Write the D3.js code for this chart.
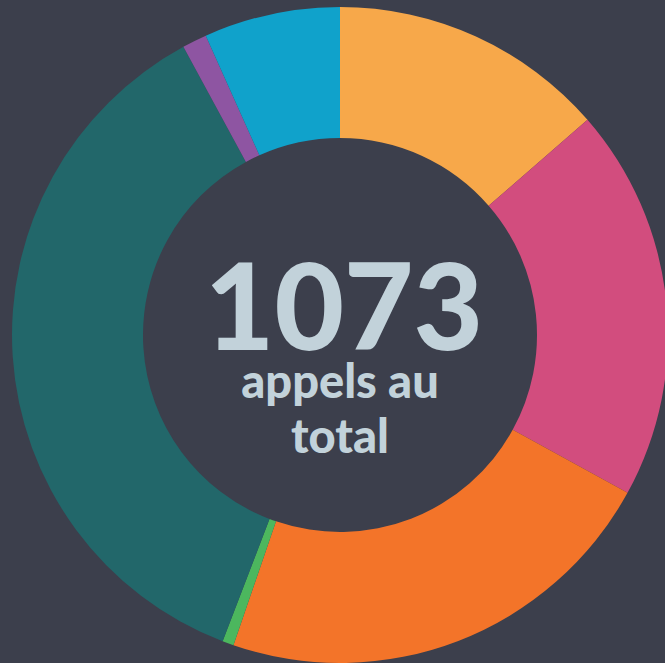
<!DOCTYPE html>
<html>
<head>
<meta charset="utf-8">
<script src="https://cdn.jsdelivr.net/npm/d3@7"></script>
<style>
  html, body { margin: 0; padding: 0; background: #3c3f4c; overflow: hidden; }
</style>
</head>
<body>
<div id="chart"></div>
<script>
// Data
let categories = ['a', 'b', 'c', 'd', 'e', 'f', 'g'];
let values = [146, 208, 239, 6, 389, 13, 72];
let colors = ['#f7a84a', '#d24d7e', '#f37429', '#4cb75e', '#22676a', '#8e55a2', '#10a2cb'];
let totalLabel = ['1073', 'appels au', 'total'];

let width = 665;
let height = 663;
let cx = 340, cy = 335;
let rOuter = 328, rInner = 197;

let svg = d3.select('#chart')
  .append('svg')
  .attr('width', width)
  .attr('height', height);

svg.append('rect')
  .attr('width', width)
  .attr('height', height)
  .attr('fill', '#3c3f4c');

let g = svg.append('g')
  .attr('transform', 'translate(' + cx + ',' + cy + ')');

let pie = d3.pie().sort(null).value(function(d){ return d; });
let arc = d3.arc().innerRadius(rInner).outerRadius(rOuter);

g.selectAll('.slice')
  .data(pie(values))
  .enter()
  .append('path')
  .attr('class', 'slice')
  .attr('d', arc)
  .attr('fill', function(d, i){ return colors[i]; });

// Centre text
g.append('text')
  .text(totalLabel[0])
  .attr('x', 4)
  .attr('y', 15)
  .attr('text-anchor', 'middle')
  .attr('font-family', 'Lato')
  .attr('font-weight', 900)
  .attr('font-size', 120)
  .attr('fill', '#c2d2da');

g.append('text')
  .text(totalLabel[1])
  .attr('x', 0)
  .attr('y', 62.5)
  .attr('text-anchor', 'middle')
  .attr('font-family', 'Lato')
  .attr('font-weight', 900)
  .attr('font-size', 47)
  .attr('fill', '#c2d2da');

g.append('text')
  .text(totalLabel[2])
  .attr('x', 0)
  .attr('y', 117.5)
  .attr('text-anchor', 'middle')
  .attr('font-family', 'Lato')
  .attr('font-weight', 900)
  .attr('font-size', 47)
  .attr('fill', '#c2d2da');
</script>
</body>
</html>
